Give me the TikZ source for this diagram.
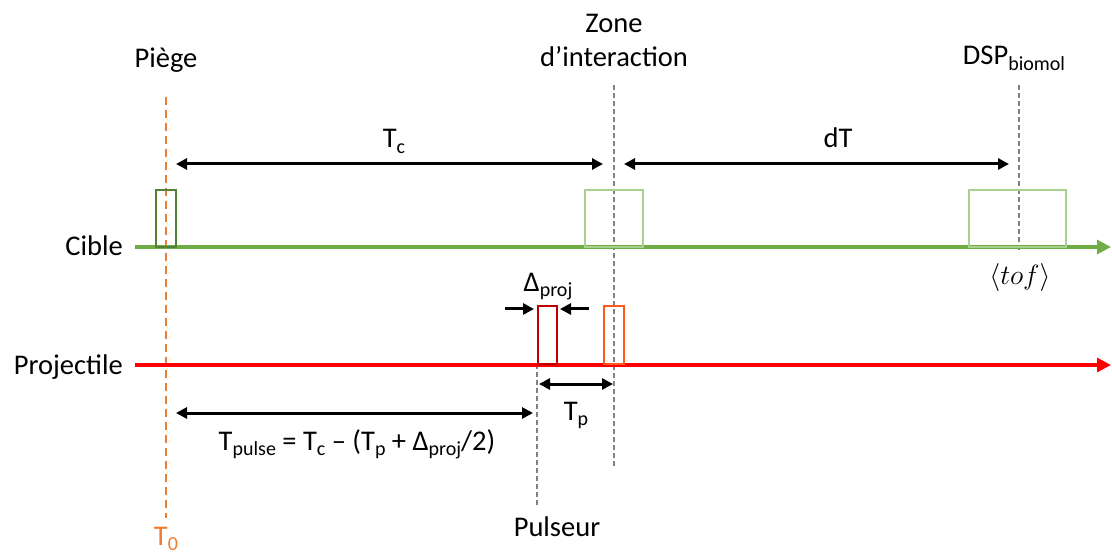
\documentclass[tikz,border=0pt]{standalone}
\usepackage{fontspec}
\setmainfont{Carlito}
\usetikzlibrary{arrows.meta}
\definecolor{gline}{HTML}{70AD47}
\definecolor{gdark}{HTML}{548235}
\definecolor{glight}{HTML}{A9D18E}
\definecolor{rline}{HTML}{FF0000}
\definecolor{rdark}{HTML}{C00000}
\definecolor{rorange}{HTML}{FF5A1E}
\definecolor{orng}{HTML}{ED7D31}
\definecolor{gdash}{HTML}{808080}
\newcommand{\mysub}[1]{\raisebox{-5.5pt}{\fontsize{20}{21}\selectfont #1}}
\tikzset{
  lbl/.style={inner sep=0pt, anchor=base, font=\fontsize{28.5}{31}\selectfont},
  timeline/.style={line width=3.2pt, -{Triangle[length=14pt,width=14pt]}},
  dim/.style={line width=3pt, {Triangle[length=11pt,width=11pt]}-{Triangle[length=11pt,width=11pt]}},
  dimr/.style={line width=3pt, -{Triangle[length=11pt,width=11pt]}},
  guide/.style={gdash, line width=1.1pt, dash pattern=on 5pt off 3pt},
  pulse/.style={line width=2.8pt, fill=none}
}
\begin{document}
\begin{tikzpicture}[x=1pt,y=-1pt]
\useasboundingbox (0,0) rectangle (1112,556);
% guides
\coordinate (pgtop) at (166,97); \coordinate (pgbot) at (166,518);
\draw[orng, line width=2.2pt, dash pattern=on 8pt off 5pt] (pgtop) -- (pgbot);
\coordinate (ztop) at (614,85); \coordinate (zbot) at (614,467);
\draw[guide] (ztop) -- (zbot);
\coordinate (dtop) at (1019,85); \coordinate (dbot) at (1019,250);
\draw[guide] (dtop) -- (dbot);
\coordinate (ptop) at (537,364); \coordinate (pbot) at (537,507);
\draw[guide] (ptop) -- (pbot);
% timelines
\coordinate (cs) at (135,247); \coordinate (ce) at (1111,247);
\coordinate (ps) at (135,365); \coordinate (pe) at (1111,365);
\draw[timeline, gline] (cs) -- (ce);
\draw[timeline, rline] (ps) -- (pe);
% pulses
\draw[pulse, gdark] (156,190) rectangle (176,247);
\draw[pulse, glight] (585,190) rectangle (643,247);
\draw[pulse, glight] (969,190) rectangle (1066,247);
\draw[pulse, rdark] (538,306) rectangle (557,364);
\draw[pulse, rorange] (604,306) rectangle (624,364);
% dimension arrows
\coordinate (tca) at (176,164); \coordinate (tcb) at (603,164);
\draw[dim] (tca) -- (tcb);
\coordinate (dta) at (624,164); \coordinate (dtb) at (1009,164);
\draw[dim] (dta) -- (dtb);
\coordinate (dla) at (505,309); \coordinate (dlb) at (534,309);
\draw[dimr] (dla) -- (dlb);
\coordinate (dra) at (589,309); \coordinate (drb) at (560,309);
\draw[dimr] (dra) -- (drb);
\coordinate (tpa) at (539,384); \coordinate (tpb) at (613,384);
\draw[dim] (tpa) -- (tpb);
\coordinate (tua) at (176,413); \coordinate (tub) at (533,413);
\draw[dim] (tua) -- (tub);
% labels
\node[lbl] (piege) at (166,68) {Piège};
\node[lbl] (zone1) at (614,33) {Zone};
\node[lbl] (zone2) at (614,67) {d’interaction};
\node[lbl] (dsp) at (1014,65) {DSP\mysub{biomol}};
\node[lbl] (tc) at (394,148) {T\mysub{c}};
\node[lbl] (dt) at (838,148) {dT};
\node[lbl, anchor=base east] (cible) at (123,256) {Cible};
\node[lbl, anchor=base east] (proj) at (123,374) {Projectile};
\node[lbl] (tof) at (1020,285) {\scalebox{1.12}{$\langle tof\rangle$}};
\node[lbl] (dproj) at (548,291) {Δ\mysub{proj}};
\node[lbl] (tp) at (576,420) {T\mysub{p}};
\node[lbl] (tpulse) at (357,450) {T\mysub{pulse} = T\mysub{c} – (T\mysub{p} + Δ\mysub{proj}/2)};
\node[lbl] (puls) at (557,536) {Pulseur};
\node[lbl, text=orng] (t0) at (166,545) {T\mysub{0}};
\end{tikzpicture}
\end{document}
